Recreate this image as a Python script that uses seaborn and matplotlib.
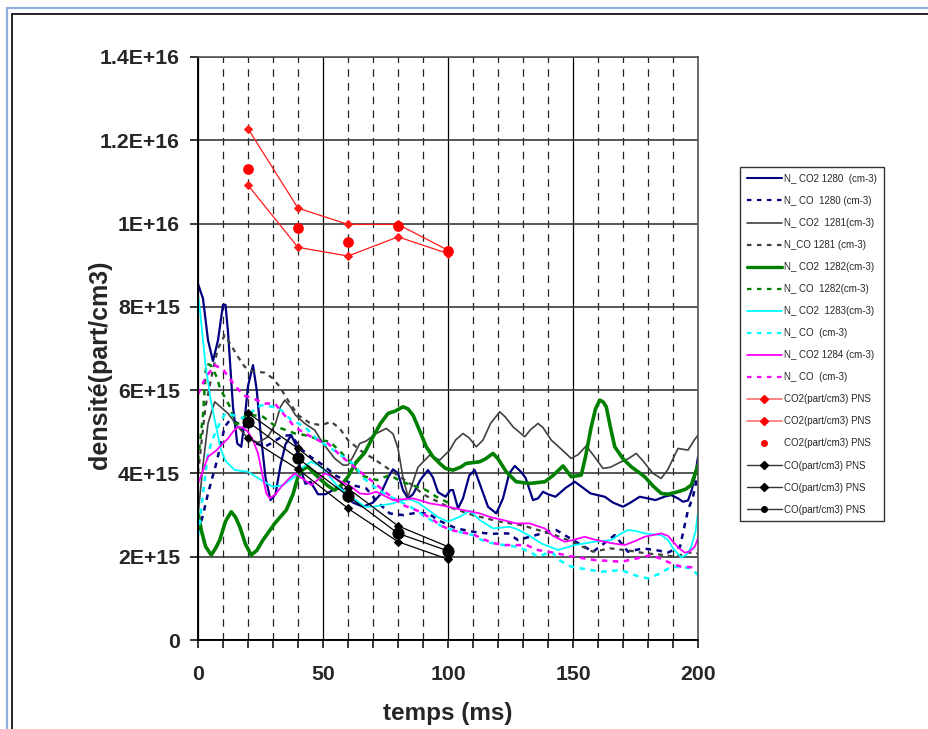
import matplotlib
matplotlib.use("Agg")
import matplotlib.pyplot as plt
import seaborn as sns
import pandas as pd
from matplotlib.lines import Line2D
from matplotlib.ticker import MultipleLocator, FixedLocator, FixedFormatter

# ---------------- data (values in units of 1E+15 part/cm3) ----------------
SCALE = 1e15

T_CO2_1280 = [0, 2, 4, 6, 8, 10, 11, 12, 14, 15.7, 17.3, 18.5, 20, 22, 23.5, 25, 27, 29, 31, 33, 35, 37.3, 39, 41, 43, 45, 48, 51, 54, 57, 60, 62, 66, 70, 73, 76, 78, 80, 82, 84, 86, 89, 92, 94, 96, 99, 101, 102, 104, 106, 108.5, 110.7, 113, 116, 119.3, 122, 124.5, 126.7, 129, 131, 134, 136, 138, 140, 143, 147, 150.7, 153, 157, 162.7, 166, 170, 173, 176.7, 180, 183, 187, 189.3, 192, 194, 196, 197.5, 199, 200]
V_CO2_1280 = [8.55, 8.2, 7.2, 6.7, 7.2, 8.05, 8.05, 7.4, 5.6, 4.72, 4.64, 5.2, 6.1, 6.6, 6.0, 5.0, 3.9, 3.36, 3.5, 4.2, 4.7, 4.92, 4.7, 4.1, 3.75, 3.8, 3.5, 3.5, 3.6, 3.7, 3.4, 3.3, 3.2, 3.3, 3.5, 3.9, 4.1, 4.0, 3.6, 3.4, 3.5, 3.85, 4.08, 3.9, 3.55, 3.44, 3.6, 3.6, 3.16, 3.4, 3.95, 4.08, 3.7, 3.2, 3.04, 3.4, 4.0, 4.18, 4.05, 3.9, 3.36, 3.4, 3.56, 3.5, 3.44, 3.65, 3.8, 3.7, 3.52, 3.44, 3.3, 3.2, 3.3, 3.44, 3.4, 3.36, 3.45, 3.48, 3.4, 3.32, 3.35, 3.6, 4.0, 4.4]

T_CO_1280 = [0, 2, 4, 7.3, 10.7, 13, 16, 19, 22, 26.7, 30, 34, 37.3, 41, 45, 50, 55, 60, 63, 67.3, 72, 76.7, 82, 87, 92, 97, 103.3, 110, 117, 124, 128, 134, 140, 143.3, 150, 158, 162, 166.7, 172, 178, 184, 188, 192.8, 196, 198, 200]
V_CO_1280 = [2.6, 3.0, 3.52, 4.24, 5.12, 5.3, 5.2, 4.9, 4.75, 4.64, 4.75, 4.9, 4.92, 4.6, 4.4, 4.2, 3.95, 3.8, 3.7, 3.64, 3.3, 3.04, 3.0, 3.05, 3.04, 2.85, 2.68, 2.6, 2.55, 2.56, 2.4, 2.5, 2.6, 2.64, 2.4, 2.12, 2.3, 2.52, 2.12, 2.2, 2.15, 2.1, 2.24, 3.12, 3.44, 4.0]

T_CO2_1281 = [0, 2, 4, 6.7, 9, 12, 16, 20, 24, 28, 31, 33, 34.7, 37, 39, 42.7, 46.7, 50, 54.7, 58, 60, 62, 64.7, 67.3, 71, 75.3, 78, 80, 82, 84, 86, 88, 92.7, 96.7, 100.7, 103, 106, 108.5, 111.3, 114, 117, 120.7, 123, 126, 130.7, 133, 136, 138, 141.3, 145, 149.3, 152, 155.3, 158, 162, 165, 169.3, 172, 175.3, 178, 182, 185.3, 188, 192, 196, 198.5, 200]
V_CO2_1281 = [3.0, 4.2, 5.2, 5.72, 5.6, 5.44, 5.12, 4.84, 4.74, 4.88, 5.2, 5.6, 5.76, 5.6, 5.4, 5.2, 5.04, 4.72, 4.36, 4.2, 4.2, 4.4, 4.72, 4.78, 4.95, 5.08, 4.95, 4.6, 3.9, 3.44, 3.8, 4.15, 4.44, 4.32, 4.56, 4.8, 4.96, 4.85, 4.64, 4.8, 5.2, 5.48, 5.35, 5.12, 4.88, 5.05, 5.2, 5.1, 4.8, 4.6, 4.36, 4.45, 4.66, 4.45, 4.12, 4.15, 4.28, 4.35, 4.48, 4.3, 4.0, 3.88, 4.1, 4.6, 4.56, 4.8, 4.92]

T_CO_1281 = [0, 3, 6, 8, 10.7, 13, 16, 18.7, 22, 26.7, 30, 32.7, 35.5, 40, 45, 49.3, 53.3, 56.7, 60, 65, 70, 74, 80, 85, 90, 95, 100, 110, 120, 130, 142.7, 150, 158, 165, 172, 179.3, 185, 190.7, 196, 200]
V_CO_1281 = [4.0, 5.6, 6.5, 7.0, 7.32, 7.1, 6.8, 6.56, 6.45, 6.42, 6.28, 6.08, 5.8, 5.4, 5.2, 5.16, 5.24, 5.08, 4.8, 4.55, 4.36, 4.2, 3.95, 3.75, 3.5, 3.35, 3.2, 3.0, 2.85, 2.75, 2.52, 2.35, 2.12, 2.2, 2.15, 2.08, 2.05, 2.0, 2.1, 2.08]

T_CO2_1282 = [0, 1.3, 3, 5.3, 7, 8.7, 11, 13.3, 15, 16.7, 19, 21.3, 23.5, 26, 30.7, 35.3, 38, 40, 42, 44, 46.5, 49.3, 52, 54.7, 57, 60, 63, 66.7, 70, 73, 76, 79, 82, 84, 86, 88.5, 91.3, 94, 96.7, 99, 102, 105, 107.3, 110, 112.7, 115, 118, 120, 123.3, 127.3, 132.7, 138.7, 142, 146, 149.3, 153.3, 155, 157.3, 159, 160.7, 162, 163.3, 165, 166.7, 170, 173.3, 178.7, 182, 185.3, 188, 192, 195, 197.3, 200]
V_CO2_1282 = [3.05, 2.64, 2.25, 2.04, 2.2, 2.4, 2.85, 3.08, 2.95, 2.72, 2.3, 2.04, 2.15, 2.4, 2.8, 3.12, 3.5, 3.92, 4.1, 4.16, 4.0, 3.84, 3.7, 3.6, 3.7, 3.92, 4.25, 4.5, 4.88, 5.2, 5.44, 5.5, 5.6, 5.55, 5.4, 5.05, 4.64, 4.4, 4.24, 4.12, 4.08, 4.15, 4.24, 4.26, 4.28, 4.35, 4.48, 4.35, 4.04, 3.8, 3.76, 3.8, 3.95, 4.18, 3.92, 3.96, 4.4, 5.12, 5.55, 5.76, 5.72, 5.6, 5.1, 4.64, 4.35, 4.16, 3.92, 3.7, 3.52, 3.5, 3.56, 3.62, 3.72, 4.2]

T_CO_1282 = [0, 2, 3.3, 5, 7.5, 8.8, 11, 12.8, 14.7, 17, 19, 22, 26, 31.3, 35.3, 38.7, 42.7, 49.3, 52.8, 57.3, 62, 65.3, 71.5, 76.7, 81.5, 87.5, 91.3, 95.3, 100]
V_CO_1282 = [4.3, 5.4, 6.64, 6.6, 6.32, 6.04, 5.8, 5.6, 5.2, 5.2, 5.4, 5.4, 5.36, 5.12, 5.04, 4.96, 4.92, 4.8, 4.76, 4.5, 4.2, 3.95, 3.84, 3.96, 3.8, 3.68, 3.6, 3.44, 3.3]

T_CO2_1283 = [0, 1, 2, 3, 5, 7, 9, 11, 14.7, 20, 25.3, 30, 34, 38.7, 42, 45.3, 48, 50.7, 53, 56, 61.3, 66.7, 70, 74, 78, 81, 84.7, 88, 91.3, 96, 100, 104.7, 108.7, 110.7, 112.7, 118, 124.7, 128, 132.7, 137.3, 144, 150.7, 158.7, 165.3, 169, 172, 175, 178.7, 185.3, 188, 190, 193.3, 195.5, 197.3, 199, 200]
V_CO2_1283 = [8.3, 7.8, 7.2, 6.6, 5.8, 5.2, 4.6, 4.3, 4.08, 4.04, 3.84, 3.68, 3.72, 3.92, 4.15, 4.28, 4.2, 4.08, 3.9, 3.68, 3.44, 3.2, 3.2, 3.24, 3.28, 3.35, 3.38, 3.3, 3.16, 2.95, 2.84, 2.96, 3.1, 3.0, 2.88, 2.68, 2.72, 2.65, 2.5, 2.32, 2.16, 2.28, 2.36, 2.4, 2.55, 2.64, 2.62, 2.56, 2.52, 2.4, 2.2, 1.98, 2.05, 2.24, 2.6, 3.08]

T_CO_1283 = [0, 2, 4, 7, 10.8, 14, 18.8, 22, 25.3, 30, 33.3, 37, 42.7, 48, 53.3, 58, 62.7, 66, 70, 75, 80, 85, 90, 94, 98, 104, 110, 114.7, 120, 127.3, 132.7, 136, 141.3, 145, 149.3, 155, 161.3, 169.3, 175, 180, 185, 189.3, 193, 197.3, 200]
V_CO_1283 = [2.5, 3.5, 4.5, 5.0, 5.44, 5.4, 5.32, 5.5, 5.64, 5.6, 5.52, 5.3, 5.12, 4.8, 4.6, 4.4, 4.2, 3.9, 3.7, 3.5, 3.35, 3.2, 3.0, 2.85, 2.72, 2.6, 2.52, 2.36, 2.3, 2.24, 2.12, 2.0, 2.12, 1.9, 1.76, 1.7, 1.64, 1.68, 1.55, 1.48, 1.6, 1.76, 1.75, 1.72, 1.56]

T_CO2_1284 = [0, 2.1, 4, 7.5, 8.7, 12, 14, 16, 18, 20, 22, 24, 26, 27.3, 28.7, 31, 33.3, 36, 38.7, 42.7, 45.3, 48, 50.7, 53, 56, 61.3, 64.7, 68, 71.3, 75, 78, 82, 86, 89, 92.7, 96, 100, 106, 112.7, 117, 122, 127.3, 132.7, 135, 138.7, 142, 146.7, 150, 154.7, 158, 162.7, 166, 170.7, 175, 178.7, 182, 185.3, 188, 190, 192.5, 194.7, 196.5, 198.7, 200]
V_CO2_1284 = [3.76, 4.08, 4.4, 4.56, 4.64, 4.84, 5.0, 5.12, 5.1, 5.0, 4.8, 4.48, 3.9, 3.52, 3.4, 3.5, 3.68, 3.85, 4.0, 3.84, 3.72, 3.85, 4.0, 3.95, 3.84, 3.68, 3.52, 3.5, 3.56, 3.45, 3.36, 3.38, 3.4, 3.35, 3.28, 3.25, 3.2, 3.12, 3.04, 2.95, 2.88, 2.8, 2.8, 2.75, 2.68, 2.5, 2.36, 2.4, 2.48, 2.42, 2.36, 2.32, 2.28, 2.38, 2.48, 2.52, 2.56, 2.5, 2.36, 2.2, 2.1, 2.12, 2.24, 2.45]

T_CO_1284 = [0, 3, 6.7, 10.1, 12, 15, 18, 22, 26.7, 30.7, 34, 38.7, 43, 49.3, 52, 56.8, 60.8, 64, 70, 76, 82, 88, 93.3, 97, 101.3, 106, 110.7, 114, 118.7, 122.7, 131.3, 136, 142, 150, 158.7, 164, 169.3, 175, 181.3, 185, 189.3, 193.3, 197, 200]
V_CO_1284 = [5.9, 6.3, 6.6, 6.5, 6.32, 6.1, 5.88, 5.8, 5.68, 5.68, 5.44, 5.12, 4.95, 4.76, 4.72, 4.44, 4.24, 4.08, 3.8, 3.5, 3.24, 3.1, 2.92, 2.75, 2.64, 2.58, 2.52, 2.42, 2.32, 2.28, 2.28, 2.16, 2.1, 2.0, 1.92, 1.9, 1.88, 1.95, 2.04, 1.95, 1.84, 1.76, 1.75, 1.72]

T_PNS = [20, 40, 60, 80, 100]
V_PNS_CO2_HIGH = [12.28, 10.37, 9.98, 9.98, 9.36]
V_PNS_CO2_LOW = [10.92, 9.43, 9.22, 9.68, 9.28]
V_PNS_CO2_MEAN = [11.30, 9.90, 9.56, 9.94, 9.34]
V_PNS_CO_HIGH = [5.45, 4.60, 3.64, 2.74, 2.24]
V_PNS_CO_LOW = [4.86, 4.10, 3.16, 2.36, 1.94]
V_PNS_CO_MEAN = [5.24, 4.36, 3.46, 2.56, 2.14]

LABELS = ["N_ CO2 1280  (cm-3)", "N_ CO  1280 (cm-3)", "N_ CO2  1281(cm-3)",
          "N_CO 1281 (cm-3)", "N_ CO2  1282(cm-3)", "N_ CO  1282(cm-3)",
          "N_ CO2  1283(cm-3)", "N_ CO  (cm-3)", "N_ CO2 1284 (cm-3)",
          "N_ CO  (cm-3)", "CO2(part/cm3) PNS", "CO2(part/cm3) PNS",
          "CO2(part/cm3) PNS", "CO(part/cm3) PNS", "CO(part/cm3) PNS",
          "CO(part/cm3) PNS"]

Y_TICKS = [0, 2, 4, 6, 8, 10, 12, 14]
Y_TICK_LABELS = ["0", "2E+15", "4E+15", "6E+15", "8E+15", "1E+16", "1.2E+16", "1.4E+16"]
X_LABEL = "temps (ms)"
Y_LABEL = "densité(part/cm3)"

# ---------------- styling ----------------
sns.set_style("white")
plt.rcParams['font.family'] = ['Liberation Sans', 'DejaVu Sans']

W, H = 929, 729
fig = plt.figure(figsize=(W / 100, H / 100), dpi=100)
fig.patch.set_facecolor("white")
ax = fig.add_axes([198 / W, (H - 640) / H, 500 / W, 583 / H])

NAVY, GRAY, GREEN, CYAN, MAG = "#000080", "#404040", "#008000", "#00FFFF", "#FF00FF"
DASH = (0, (2.2, 2.2))

def df(t, v):
    return pd.DataFrame({"t": t, "v": [x * SCALE for x in v]})

curves = [
    (T_CO2_1280, V_CO2_1280, dict(color=NAVY, lw=1.6)),
    (T_CO_1280, V_CO_1280, dict(color=NAVY, lw=1.8, linestyle=DASH)),
    (T_CO2_1281, V_CO2_1281, dict(color=GRAY, lw=1.2)),
    (T_CO_1281, V_CO_1281, dict(color=GRAY, lw=1.6, linestyle=DASH)),
    (T_CO2_1282, V_CO2_1282, dict(color=GREEN, lw=2.6)),
    (T_CO_1282, V_CO_1282, dict(color=GREEN, lw=1.8, linestyle=DASH)),
    (T_CO2_1283, V_CO2_1283, dict(color=CYAN, lw=1.3)),
    (T_CO_1283, V_CO_1283, dict(color=CYAN, lw=1.8, linestyle=DASH)),
    (T_CO2_1284, V_CO2_1284, dict(color=MAG, lw=1.3)),
    (T_CO_1284, V_CO_1284, dict(color=MAG, lw=1.8, linestyle=DASH)),
]
for t, v, kw in curves:
    sns.lineplot(data=df(t, v), x="t", y="v", ax=ax, errorbar=None, legend=False, **kw)

RED = "#FF1A1A"
for v in (V_PNS_CO2_HIGH, V_PNS_CO2_LOW):
    sns.lineplot(data=df(T_PNS, v), x="t", y="v", ax=ax, errorbar=None, legend=False,
                 color=RED, lw=0.9, marker="D", markersize=4, markeredgecolor=RED, zorder=5)
sns.scatterplot(data=df(T_PNS, V_PNS_CO2_MEAN), x="t", y="v", ax=ax, color="#FF0000",
                s=60, edgecolor="#FF0000", linewidth=0, legend=False, zorder=6)
for v in (V_PNS_CO_HIGH, V_PNS_CO_LOW):
    sns.lineplot(data=df(T_PNS, v), x="t", y="v", ax=ax, errorbar=None, legend=False,
                 color="black", lw=0.9, marker="D", markersize=4, markeredgecolor="black", zorder=5)
sns.lineplot(data=df(T_PNS, V_PNS_CO_MEAN), x="t", y="v", ax=ax, errorbar=None, legend=False,
             color="black", lw=0.9, marker="o", markersize=8, markeredgecolor="black", zorder=6)

# ---------------- axes ----------------
ax.set_xlim(0, 200)
ax.set_ylim(0, 14 * SCALE)
ax.xaxis.set_major_locator(MultipleLocator(50))
ax.xaxis.set_minor_locator(MultipleLocator(10))
ax.yaxis.set_major_locator(FixedLocator([y * SCALE for y in Y_TICKS]))
ax.yaxis.set_major_formatter(FixedFormatter(Y_TICK_LABELS))
ax.set_axisbelow(True)
ax.grid(False)
ax.grid(axis="y", which="major", color="#3a3a3a", lw=1.2, linestyle="-")
ax.grid(axis="x", which="major", color="black", lw=0.9, linestyle="-")
ax.grid(axis="x", which="minor", color="#222222", lw=0.9, linestyle=(0, (6, 5)))

for s in ("left", "bottom"):
    ax.spines[s].set_color("black")
    ax.spines[s].set_linewidth(1.4)
for s in ("top", "right"):
    ax.spines[s].set_color("#555555")
    ax.spines[s].set_linewidth(1.2)

ax.tick_params(axis="both", which="both", direction="out", length=6, width=1.1, color="black",
               bottom=True, left=True)
ax.tick_params(axis="y", which="minor", left=False)
ax.tick_params(axis="x", which="major", pad=12, labelsize=15.3)
ax.tick_params(axis="y", which="major", pad=7, labelsize=15.3)
for lab in ax.get_xticklabels() + ax.get_yticklabels():
    lab.set_fontweight("bold")

ax.set_xlabel(X_LABEL, fontsize=17.5, fontweight="bold")
ax.set_ylabel(Y_LABEL, fontsize=18, fontweight="bold")
ax.xaxis.set_label_coords(0.5, (640 - 702) / 583)
ax.yaxis.set_label_coords((112 - 198) / 500, (640 - 365) / 583)

# ---------------- legend ----------------
def h(color, lw=1.2, ls="-", marker=None, ms=4):
    return Line2D([], [], color=color, lw=lw, linestyle=ls, marker=marker, markersize=ms,
                  markeredgecolor=color)

LDASH = (0, (2.0, 2.5))
handles = [
    h(NAVY, 1.5), h(NAVY, 1.6, LDASH), h(GRAY, 1.2), h(GRAY, 1.6, LDASH),
    h(GREEN, 2.4), h(GREEN, 1.6, LDASH), h(CYAN, 1.3), h(CYAN, 1.6, LDASH),
    h(MAG, 1.3), h(MAG, 1.6, LDASH),
    h("#FF7070", 1.2, "-", "D", 4), h("#FF7070", 1.2, "-", "D", 4),
    Line2D([], [], color="#FF0000", linestyle="none", marker="o", markersize=4),
    h("#333333", 1.0, "-", "D", 4), h("#333333", 1.0, "-", "D", 4), h("#333333", 1.0, "-", "o", 4),
]
for hd in handles[10:12]:
    hd.set_markerfacecolor("#FF0000"); hd.set_markeredgecolor("#FF0000")
for hd in handles[13:]:
    hd.set_markerfacecolor("black"); hd.set_markeredgecolor("black")

leg = fig.legend(handles, LABELS, loc="upper left", bbox_to_anchor=(740 / W, 1 - 165 / H),
                 bbox_transform=fig.transFigure, frameon=True, fancybox=False, shadow=False,
                 fontsize=7, handlelength=3.6, handletextpad=0.25, labelspacing=1.24,
                 borderpad=0.7, borderaxespad=0)
leg.get_frame().set_edgecolor("black")
leg.get_frame().set_linewidth(1.0)
# small extra top offset so entries keep their place with the thinner padding
leg.set_bbox_to_anchor((740 / W, 1 - 167 / H), transform=fig.transFigure)

# ---------------- outer frame ----------------
fig.add_artist(Line2D([7.5 / W, 7.5 / W], [0, 1 - 8 / H], color="#8fb0dc", lw=1.6,
                      transform=fig.transFigure))
fig.add_artist(Line2D([7.5 / W, 1], [1 - 8 / H, 1 - 8 / H], color="#8fb0dc", lw=1.6,
                      transform=fig.transFigure))
fig.add_artist(Line2D([12 / W, 12 / W], [0, 1 - 14 / H], color="black", lw=1.2,
                      transform=fig.transFigure))
fig.add_artist(Line2D([12 / W, 1], [1 - 14 / H, 1 - 14 / H], color="black", lw=1.2,
                      transform=fig.transFigure))

fig.savefig("out.png", dpi=100)
